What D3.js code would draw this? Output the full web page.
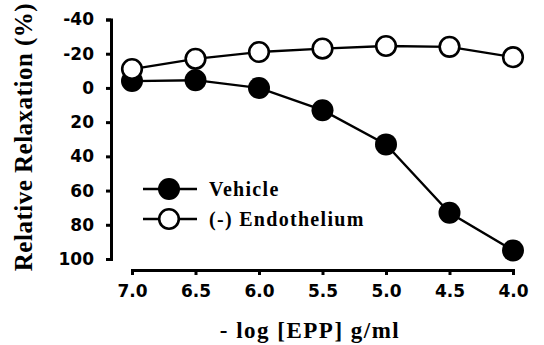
<!DOCTYPE html>
<html>
<head>
<meta charset="utf-8">
<script src="https://cdn.jsdelivr.net/npm/d3@7"></script>
<style>
  html, body { margin: 0; padding: 0; background: #fff; }
  svg { display: block; }
  .tick text { font-family: 'DejaVu Sans', sans-serif; font-weight: bold; font-size: 17px; fill: #000; }
  .serif { font-family: 'Liberation Serif', 'Times New Roman', serif; font-weight: bold; fill: #000; }
</style>
</head>
<body>
<svg id="chart" width="544" height="345"></svg>
<script>
const doses      = [7.0, 6.5, 6.0, 5.5, 5.0, 4.5, 4.0]
const vehicle    = [-4, -4.5, 0, 13, 33, 73, 95]
const noEndo     = [-11, -17, -21, -23, -24.5, -24, -18]
const yTicks     = [-40, -20, 0, 20, 40, 60, 80, 100]
const seriesNames = ['Vehicle', '(-) Endothelium']

const svg = d3.select('#chart')

const x = d3.scaleLinear().domain([7, 4]).range([132, 513])
const y = d3.scaleLinear().domain([-40, 100]).range([19.5, 259])

// y axis
const yAxis = svg.append('g')
  .attr('transform', 'translate(111,0)')
  .call(d3.axisLeft(y).tickValues(yTicks).tickSize(5).tickPadding(12).tickFormat(d => String(d)))
yAxis.selectAll('path, line').attr('stroke', '#000').attr('stroke-width', 3)
yAxis.select('.domain').attr('stroke-linejoin', 'miter')

// x axis
const xAxis = svg.append('g')
  .attr('transform', 'translate(0,270)')
  .call(d3.axisBottom(x).tickValues(doses).tickSize(5).tickPadding(10).tickFormat(d => d.toFixed(1)))
xAxis.selectAll('path, line').attr('stroke', '#000').attr('stroke-width', 3)

const line = d3.line().x((d, i) => x(doses[i])).y(d => y(d))

// vehicle (filled)
svg.append('path').datum(vehicle)
  .attr('d', line).attr('fill', 'none').attr('stroke', '#000').attr('stroke-width', 2.3)
svg.append('g').selectAll('circle').data(vehicle).enter().append('circle')
  .attr('cx', (d, i) => x(doses[i])).attr('cy', d => y(d))
  .attr('r', 11).attr('fill', '#000')

// (-) endothelium (open)
svg.append('path').datum(noEndo)
  .attr('d', line).attr('fill', 'none').attr('stroke', '#000').attr('stroke-width', 2.3)
svg.append('g').selectAll('circle').data(noEndo).enter().append('circle')
  .attr('cx', (d, i) => x(doses[i])).attr('cy', d => y(d))
  .attr('r', 9.8).attr('fill', '#fff').attr('stroke', '#000').attr('stroke-width', 2.6)

// legend
const legend = svg.append('g').selectAll('g').data(seriesNames).enter().append('g')
  .attr('transform', (d, i) => `translate(169,${189 + i * 30})`)
legend.append('line').attr('x1', -26).attr('x2', 28).attr('stroke', '#000').attr('stroke-width', 2.3)
legend.append('circle')
  .attr('r', (d, i) => i === 0 ? 11 : 9.8)
  .attr('fill', (d, i) => i === 0 ? '#000' : '#fff')
  .attr('stroke', (d, i) => i === 0 ? 'none' : '#000')
  .attr('stroke-width', 2.6)
legend.append('text').attr('class', 'serif')
  .attr('x', 40).attr('y', 6.5)
  .attr('font-size', 20).attr('letter-spacing', 1.3)
  .text(d => d)

// axis titles
svg.append('text').attr('class', 'serif')
  .attr('transform', 'translate(32,137) rotate(-90)')
  .attr('text-anchor', 'middle')
  .attr('font-size', 25).attr('letter-spacing', 0.5)
  .text('Relative Relaxation (%)')

svg.append('text').attr('class', 'serif')
  .attr('x', 310).attr('y', 338)
  .attr('text-anchor', 'middle')
  .attr('font-size', 23).attr('letter-spacing', 1.5)
  .text('- log [EPP] g/ml')
</script>
</body>
</html>
